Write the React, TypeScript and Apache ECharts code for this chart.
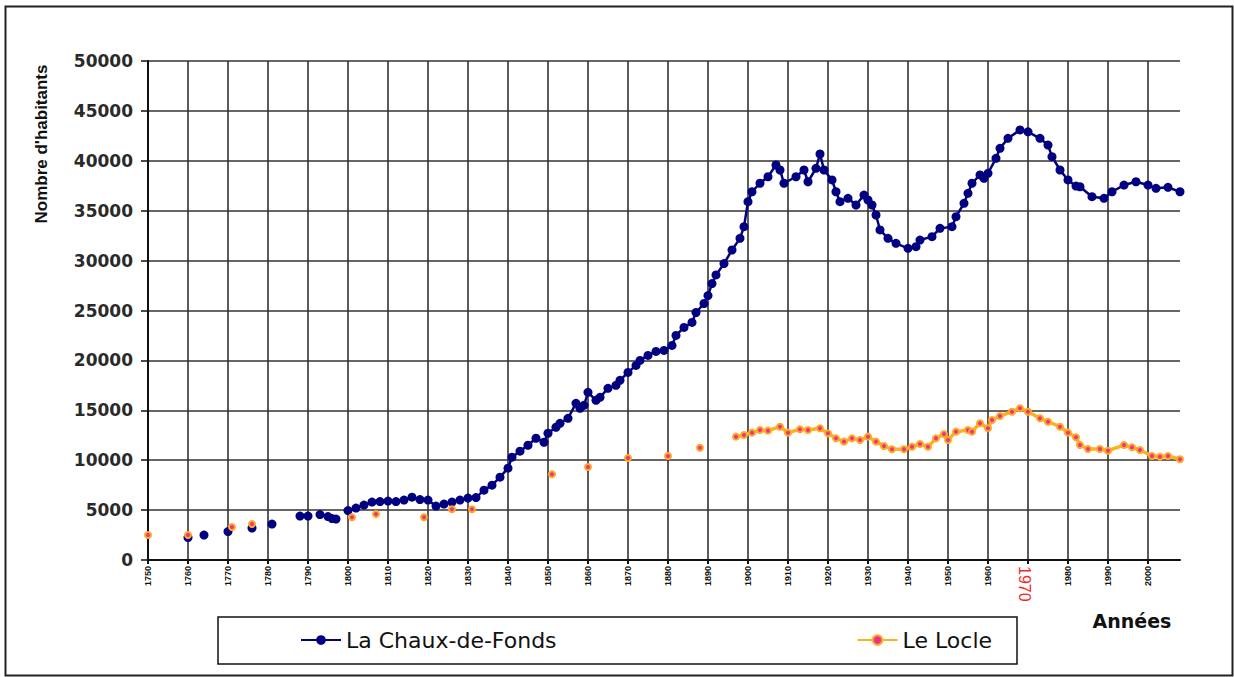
import React, { useEffect, useRef } from "react";
import * as echarts from "echarts";

const xTickYears = [1750, 1760, 1770, 1780, 1790, 1800, 1810, 1820, 1830, 1840, 1850, 1860, 1870, 1880, 1890, 1900, 1910, 1920, 1930, 1940, 1950, 1960, 1970, 1980, 1990, 2000];

const chauxYears = [
  1760, 1761, 1764, 1765, 1770, 1771, 1776, 1777, 1781, 1782, 1788, 1789, 1790, 1791,
  1793, 1795, 1796, 1797, 1798,
  1800, 1802, 1804, 1806, 1808, 1810, 1812, 1814, 1816, 1818, 1820, 1822, 1824, 1826, 1828,
  1830, 1832, 1834, 1836, 1838, 1840, 1841, 1843, 1845, 1847, 1849, 1850, 1852, 1853, 1855,
  1857, 1858, 1859, 1860, 1862, 1863, 1865, 1867, 1868, 1870, 1872, 1873, 1875, 1877, 1879,
  1881, 1882, 1884, 1886, 1887, 1889, 1890, 1891, 1892, 1894, 1896, 1898, 1899, 1900, 1901,
  1903, 1905, 1907, 1908, 1909, 1912, 1914, 1915, 1917, 1918, 1919, 1921, 1922, 1923, 1925,
  1927, 1929, 1930, 1931, 1932, 1933, 1935, 1937, 1940, 1942, 1943, 1946, 1948, 1951, 1952,
  1954, 1955, 1956, 1958, 1959, 1960, 1962, 1963, 1965, 1968, 1970, 1973, 1975, 1976, 1978,
  1980, 1982, 1983, 1986, 1989, 1991, 1994, 1997, 2000, 2002, 2005, 2008
];
const chauxPop = [
  2250, null, 2500, null, 2850, null, 3200, null, 3600, null, 4400, null, 4400, null,
  4550, 4350, 4150, 4100, null,
  4950, 5200, 5500, 5800, 5850, 5900, 5850, 6000, 6300, 6050, 6000, 5400, 5600, 5800, 6000,
  6200, 6250, 7000, 7500, 8300, 9200, 10300, 10900, 11500, 12200, 11800, 12700, 13300, 13700, 14200,
  15700, 15200, 15500, 16800, 16000, 16300, 17200, 17500, 18000, 18800, 19500, 20000, 20500, 20900, 21000,
  21500, 22500, 23300, 23800, 24800, 25700, 26500, 27700, 28560, 29700, 31060, 32230, 33400, 35900, 36900,
  37750, 38400, 39580, 39080, 37750, 38400, 39080, 37900, 39250, 40680, 39080, 38080, 36900, 35900, 36240,
  35570, 36570, 36070, 35570, 34570, 33070, 32230, 31730, 31230, 31400, 32060, 32400, 33230, 33400, 34400,
  35740, 36740, 37750, 38580, 38250, 38750, 40250, 41250, 42250, 43090, 42900, 42250, 41580, 40410, 39080,
  38080, 37470, 37400, 36400, 36240, 36900, 37570, 37900, 37570, 37240, 37340, 36900
];

const locleYears = [
  1750, 1751, 1760, 1761, 1771, 1772, 1776, 1777, 1801, 1802, 1807, 1808, 1819, 1820,
  1826, 1827, 1831, 1832, 1851, 1852, 1860, 1861, 1870, 1871, 1880, 1881, 1888, 1889,
  1897, 1899, 1901, 1903, 1905, 1908, 1910, 1913, 1915, 1918, 1920, 1922, 1924, 1926, 1928,
  1930, 1932, 1934, 1936, 1939, 1941, 1943, 1945, 1947, 1949, 1950, 1952, 1955, 1956, 1958,
  1960, 1961, 1963, 1966, 1968, 1970, 1973, 1975, 1978, 1980, 1982, 1983, 1985, 1988, 1990,
  1994, 1996, 1998, 2001, 2003, 2005, 2008
];
const loclePop = [
  2500, null, 2500, null, 3300, null, 3600, null, 4280, null, 4600, null, 4280, null,
  5080, null, 5080, null, 8590, null, 9320, null, 10220, null, 10420, null, 11250, null,
  12360, 12530, 12760, 13030, 12960, 13360, 12760, 13090, 13030, 13200, 12690, 12190, 11860, 12190, 12020,
  12360, 11860, 11420, 11090, 11090, 11350, 11620, 11350, 12190, 12630, 12020, 12860, 13030, 12860, 13700,
  13200, 14030, 14430, 14860, 15200, 14860, 14200, 13860, 13360, 12760, 12290, 11520, 11120, 11120, 10950,
  11520, 11290, 11020, 10420, 10350, 10420, 10090
];

const toPairs = (xs: number[], ys: (number | null)[]) =>
  xs.map((x, i) => [x, ys[i] === null ? "-" : ys[i]]);

export default function App() {
  const ref = useRef<HTMLDivElement>(null);
  useEffect(() => {
    const chart = echarts.init(ref.current!, null, { renderer: "svg" });
    const gridColor = "#333333";
    chart.setOption({
      animation: false,
      backgroundColor: "#ffffff",
      grid: { left: 148, right: 54, top: 61, bottom: 117, containLabel: false },
      xAxis: {
        type: "value",
        min: 1750,
        max: 2008,
        interval: 10,
        axisLine: { show: true, onZero: false, lineStyle: { color: "#111", width: 2 } },
        axisTick: { show: true, length: 4, customValues: xTickYears, lineStyle: { color: "#111", width: 2 } },
        axisLabel: {
          customValues: xTickYears,
          rotate: 90,
          margin: 6,
          fontSize: 9,
          fontWeight: "bold",
          fontFamily: "Liberation Sans, Arial, sans-serif",
          color: "#111",
          formatter: (v: number) => (v === 1970 ? "" : String(v)),
        },
        splitLine: { show: true, lineStyle: { color: gridColor, width: 1.6 } },
      },
      yAxis: {
        type: "value",
        min: 0,
        max: 50000,
        interval: 5000,
        axisLine: { show: true, lineStyle: { color: "#111", width: 2 } },
        axisTick: { show: true, inside: false, length: 7, lineStyle: { color: "#111", width: 1.5 } },
        axisLabel: {
          margin: 15,
          fontSize: 17,
          fontWeight: "bold",
          fontFamily: "DejaVu Sans, sans-serif",
          color: "#2a2a2a",
          formatter: (v: number) => String(v),
        },
        splitLine: { show: true, lineStyle: { color: gridColor, width: 1.6 } },
      },
      legend: {
        left: 300,
        top: 629,
        padding: 0,
        itemGap: 300,
        itemWidth: 40,
        itemHeight: 12,
        textStyle: { fontSize: 22, fontFamily: "DejaVu Sans, sans-serif", color: "#111" },
        data: ["La Chaux-de-Fonds", "Le Locle"],
      },
      series: [
        {
          name: "La Chaux-de-Fonds",
          type: "line",
          data: toPairs(chauxYears, chauxPop),
          connectNulls: false,
          showSymbol: true,
          symbol: "circle",
          symbolSize: 9,
          lineStyle: { color: "#000080", width: 2.5 },
          itemStyle: { color: "#000080" },
          z: 3,
        },
        {
          name: "Le Locle",
          type: "line",
          data: toPairs(locleYears, loclePop),
          connectNulls: false,
          showSymbol: true,
          symbol: "circle",
          symbolSize: 6,
          lineStyle: { color: "#FFB020", width: 3.5 },
          itemStyle: { color: "#E8338C", borderColor: "#FFA820", borderWidth: 2 },
          z: 4,
        },
      ],
      graphic: [
        {
          type: "rect",
          left: 3,
          top: 4,
          shape: { width: 1227, height: 669 },
          style: { fill: "none", stroke: "#222", lineWidth: 2 },
          silent: true,
        },
        {
          type: "rect",
          shape: { x: 218, y: 617, width: 799, height: 47 },
          style: { fill: "none", stroke: "#111", lineWidth: 1.5 },
          silent: true,
        },
        {
          type: "text",
          x: 41,
          y: 144,
          rotation: Math.PI / 2,
          style: {
            text: "Nombre d'habitants",
            fontSize: 17,
            fontWeight: "bold",
            fontFamily: "Liberation Sans, Arial, sans-serif",
            fill: "#111",
            align: "center",
            verticalAlign: "middle",
          },
        },
        {
          type: "text",
          x: 1132,
          y: 621,
          style: {
            text: "Années",
            fontSize: 19,
            fontWeight: "bold",
            fontFamily: "DejaVu Sans, sans-serif",
            fill: "#111",
            align: "center",
            verticalAlign: "middle",
          },
        },
        {
          type: "text",
          x: 1024,
          y: 566,
          rotation: -Math.PI / 2,
          style: {
            text: "1970",
            fontSize: 16,
            fontFamily: "Liberation Sans, Arial, sans-serif",
            fill: "#ee2a2a",
            align: "left",
            verticalAlign: "middle",
          },
        },
      ],
    });
    return () => chart.dispose();
  }, []);
  return (
    <div
      ref={ref}
      style={{ position: "absolute", left: 0, top: 0, width: 1234, height: 677, background: "#fff" }}
    />
  );
}
